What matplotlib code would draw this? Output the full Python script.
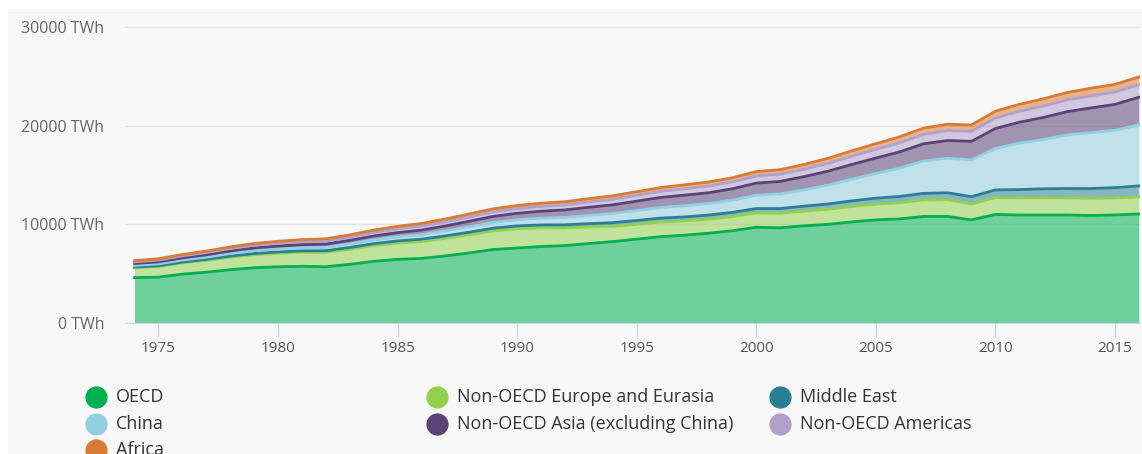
import matplotlib
matplotlib.use("Agg")
import matplotlib.pyplot as plt
from matplotlib.patches import Rectangle
import numpy as np

years = list(range(1974, 2017))

oecd = [4600, 4650, 4950, 5150, 5400, 5600, 5700, 5750, 5700, 5950,
        6250, 6450, 6550, 6800, 7100, 7450, 7600, 7750, 7850, 8050,
        8250, 8500, 8750, 8900, 9100, 9350, 9700, 9650, 9850, 10000,
        10250, 10450, 10550, 10800, 10800, 10450, 11000, 10950, 10950, 10950,
        10900, 10950, 11050]
non_oecd_europe = [1010, 1080, 1140, 1200, 1270, 1320, 1370, 1420, 1460, 1520,
                   1590, 1650, 1710, 1780, 1840, 1880, 1950, 1900, 1780, 1680,
                   1560, 1510, 1480, 1440, 1420, 1430, 1460, 1480, 1490, 1530,
                   1560, 1590, 1640, 1670, 1700, 1610, 1710, 1740, 1760, 1740,
                   1740, 1720, 1740]
middle_east = [60, 70, 85, 100, 115, 125, 130, 145, 165, 185,
               200, 220, 235, 250, 270, 280, 290, 290, 320, 340,
               360, 380, 400, 410, 420, 430, 440, 470, 500, 530,
               570, 610, 640, 670, 700, 740, 780, 830, 890, 940,
               990, 1050, 1100]
china = [170, 196, 203, 223, 257, 282, 301, 309, 328, 351,
         377, 411, 450, 497, 545, 585, 621, 678, 754, 840,
         928, 1008, 1081, 1134, 1167, 1239, 1356, 1480, 1654, 1911,
         2200, 2500, 2866, 3282, 3495, 3742, 4208, 4716, 4994, 5437,
         5666, 5815, 6187]
non_oecd_asia = [190, 200, 220, 240, 260, 280, 300, 320, 345, 370,
                 400, 430, 470, 510, 560, 610, 660, 710, 760, 820,
                 880, 950, 1010, 1070, 1090, 1150, 1220, 1270, 1340, 1410,
                 1490, 1570, 1650, 1740, 1800, 1870, 2010, 2110, 2230, 2350,
                 2500, 2620, 2800]
non_oecd_americas = [170, 185, 205, 225, 245, 270, 290, 300, 315, 330,
                     355, 375, 400, 420, 440, 460, 470, 490, 500, 530,
                     560, 590, 620, 650, 680, 700, 730, 730, 760, 800,
                     840, 880, 920, 960, 1000, 1010, 1060, 1110, 1160, 1190,
                     1230, 1250, 1260]
africa = [120, 130, 140, 150, 165, 180, 190, 205, 220, 230,
          245, 260, 270, 285, 300, 310, 315, 325, 330, 340,
          355, 370, 385, 400, 410, 420, 440, 460, 480, 510,
          540, 570, 600, 630, 650, 650, 690, 700, 730, 750,
          770, 780, 800]

# stacking order bottom -> top
series = [
    ("OECD", oecd, "#00b050"),
    ("Non-OECD Europe and Eurasia", non_oecd_europe, "#92d050"),
    ("Middle East", middle_east, "#2a7f97"),
    ("China", china, "#92cfe0"),
    ("Non-OECD Asia (excluding China)", non_oecd_asia, "#5b4378"),
    ("Non-OECD Americas", non_oecd_americas, "#b1a0c9"),
    ("Africa", africa, "#d97b33"),
]

W, H = 1142, 454
fig = plt.figure(figsize=(W / 100, H / 100), dpi=100)
fig.patch.set_facecolor("white")
fig.patches.append(Rectangle((8 / W, 0), 1, 1 - 9 / H, transform=fig.transFigure,
                             facecolor="#f8f8f8", edgecolor="none", zorder=-10))

ax = fig.add_axes([125 / W, 1 - 323 / H, 1015 / W, 297 / H])
ax.set_facecolor("none")

x = np.array(years)
base = np.zeros(len(years))
for name, vals, col in series:
    top = base + np.array(vals)
    ax.fill_between(x, base, top, color=col, alpha=0.55, lw=0, zorder=2)
    ax.plot(x, top, color=col, lw=2, zorder=3, solid_joinstyle="round")
    base = top

ax.set_xlim(1973.6, 2016.05)
ax.set_ylim(0, 30100)
ax.set_yticks([0, 10000, 20000, 30000])
ax.set_yticklabels(["0 TWh", "10000 TWh", "20000 TWh", "30000 TWh"])
ax.set_xticks(range(1975, 2016, 5))
ax.grid(axis="y", color="#e3e3e3", lw=1, zorder=0)
ax.set_axisbelow(True)
for s in ["top", "right", "left"]:
    ax.spines[s].set_visible(False)
ax.spines["bottom"].set_color("#ccd6eb")
ax.tick_params(axis="y", length=0, pad=15, labelsize=11.5, labelcolor="#666666")
ax.tick_params(axis="x", length=10, width=1, color="#ccd6eb", pad=3,
               labelsize=11, labelcolor="#555555")
for lab in ax.get_yticklabels() + ax.get_xticklabels():
    lab.set_fontfamily("Open Sans")

# legend laid out row by row like the original
legend_cols = [96, 437, 780]
legend_rows = [397, 424, 450]
legend_names = ["OECD", "Non-OECD Europe and Eurasia", "Middle East",
                "China", "Non-OECD Asia (excluding China)", "Non-OECD Americas",
                "Africa"]
legend_colors = ["#00b050", "#92d050", "#2a7f97", "#92cfe0", "#5b4378",
                 "#b1a0c9", "#d97b33"]
for i, (nm, c) in enumerate(zip(legend_names, legend_colors)):
    cx = legend_cols[i % 3]
    cy = legend_rows[i // 3]
    fig.lines.append(plt.Line2D([cx / W], [1 - cy / H], marker="o", ms=15,
                                color=c, mec=c, transform=fig.transFigure))
    fig.text((cx + 20) / W, 1 - cy / H, nm, fontsize=13, color="#333333",
             va="center", ha="left", family="Open Sans")

fig.savefig("out.png", dpi=100)
